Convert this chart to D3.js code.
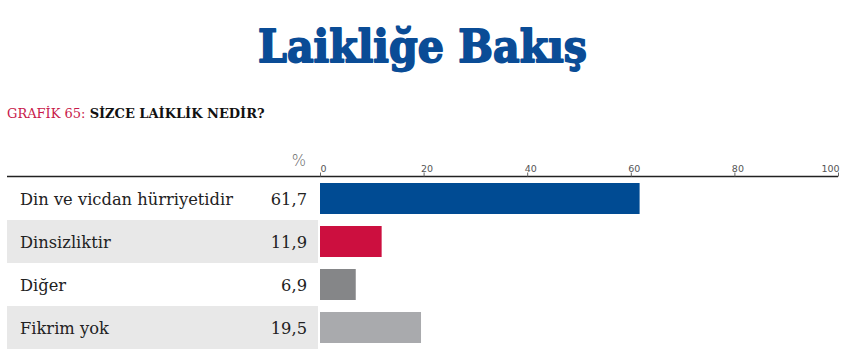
<!DOCTYPE html>
<html>
<head>
<meta charset="utf-8">
<script src="https://cdn.jsdelivr.net/npm/d3@7"></script>
<style>
  body { margin: 0; background: #fff; }
</style>
</head>
<body>
<div class="box"></div>
<script>
// DATA
const categories = ['Din ve vicdan hürriyetidir', 'Dinsizliktir', 'Diğer', 'Fikrim yok'];
const values = [61.7, 11.9, 6.9, 19.5];
const valueLabels = ['61,7', '11,9', '6,9', '19,5'];
const barColors = ['#004b93', '#cc0f3f', '#858688', '#a9aaad'];
const tickValues = [0, 20, 40, 60, 80, 100];

// SETUP
const dims = {width: 852, height: 352};

const svg = d3.select('.box')
              .append('svg')
              .attr('width', dims.width)
              .attr('height', dims.height);

// title (stroke makes it heavier, like the slab original)
svg.append('text')
   .attr('x', 258)
   .attr('y', 62)
   .attr('textLength', 329)
   .attr('lengthAdjust', 'spacingAndGlyphs')
   .attr('font-family', 'DejaVu Serif')
   .attr('font-weight', 'bold')
   .attr('font-size', 45)
   .attr('fill', '#0a4c96')
   .attr('stroke', '#0a4c96')
   .attr('stroke-width', 1.8)
   .attr('stroke-linejoin', 'round')
   .text('Laikliğe Bakış');

// subtitle
const sub = svg.append('text')
               .attr('x', 7)
               .attr('y', 118)
               .attr('font-family', 'DejaVu Serif')
               .attr('font-size', 13);
sub.append('tspan').attr('fill', '#c8194a').text('GRAFİK 65: ');
sub.append('tspan').attr('fill', '#111').attr('font-weight', 'bold').text('SİZCE LAİKLİK NEDİR?');

// scales
const x = d3.scaleLinear().domain([0, 100]).range([320, 838]);
const y = d3.scaleBand().domain(categories).range([177, 349]).paddingInner(0).paddingOuter(0);

// % sign
svg.append('text')
   .attr('x', 306)
   .attr('y', 166)
   .attr('text-anchor', 'end')
   .attr('font-family', 'DejaVu Sans')
   .attr('font-weight', 300)
   .attr('font-size', 15)
   .attr('fill', '#666')
   .text('%');

// grey bands
svg.append('g')
   .selectAll('rect')
   .data(categories.filter((d, i) => i % 2 === 1))
   .enter()
   .append('rect')
   .attr('x', 7)
   .attr('y', d => y(d))
   .attr('width', 311)
   .attr('height', y.bandwidth())
   .attr('fill', '#e8e8e8');

// header line left
svg.append('line')
   .attr('x1', 7).attr('x2', 320)
   .attr('y1', 176.5).attr('y2', 176.5)
   .attr('stroke', '#222').attr('stroke-width', 1.5);

// axis
const axis = d3.axisTop(x)
               .tickValues(tickValues)
               .tickSize(4)
               .tickPadding(1);

const gAxis = svg.append('g')
                 .attr('transform', 'translate(0, 176.5)')
                 .call(axis);
gAxis.select('.domain')
     .attr('stroke', '#222')
     .attr('stroke-width', 1.5)
     .attr('d', `M${x(0)},0H${x(100)}`);
gAxis.selectAll('.tick line').attr('stroke', '#666');
gAxis.selectAll('.tick text')
     .attr('font-family', 'DejaVu Sans')
     .attr('font-size', 9.5)
     .attr('fill', '#555')
     .attr('dx', 3);
gAxis.selectAll('.tick').filter(d => d === 100).select('text').attr('dx', -8);

// bars
svg.append('g')
   .selectAll('rect')
   .data(values)
   .enter()
   .append('rect')
   .attr('x', x(0))
   .attr('y', (d, i) => y(categories[i]) + 6)
   .attr('width', d => x(d) - x(0))
   .attr('height', 31)
   .attr('fill', (d, i) => barColors[i]);

// labels
svg.append('g')
   .selectAll('text')
   .data(categories)
   .enter()
   .append('text')
   .attr('x', 20)
   .attr('y', d => y(d) + y.bandwidth() / 2 + 6)
   .attr('font-family', 'DejaVu Serif')
   .attr('font-size', 16.3)
   .attr('fill', '#222')
   .text(d => d);

// values
svg.append('g')
   .selectAll('text')
   .data(valueLabels)
   .enter()
   .append('text')
   .attr('x', 307)
   .attr('y', (d, i) => y(categories[i]) + y.bandwidth() / 2 + 6)
   .attr('text-anchor', 'end')
   .attr('font-family', 'DejaVu Serif')
   .attr('font-size', 16.3)
   .attr('fill', '#222')
   .text(d => d);
</script>
</body>
</html>
